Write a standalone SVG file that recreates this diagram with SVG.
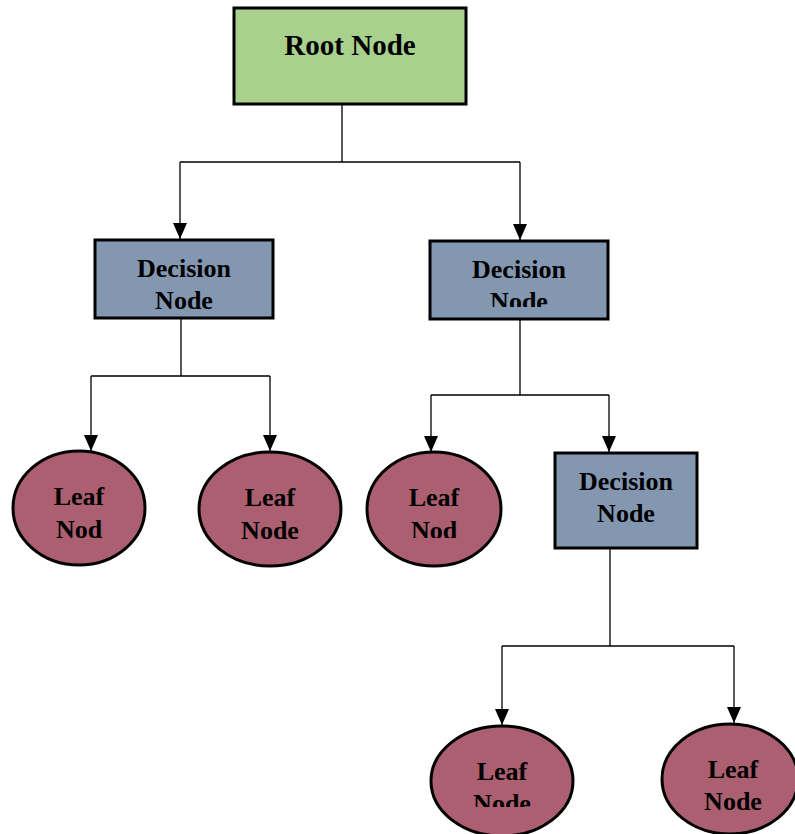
<svg xmlns="http://www.w3.org/2000/svg" width="795" height="834" viewBox="0 0 795 834">
  <style>
    .box { stroke: #000; stroke-width: 3; }
    .root { fill: #a9d18e; }
    .dec { fill: #8497b0; }
    .leaf { fill: #ad5f72; stroke: #000; stroke-width: 3; }
    .lbl { font-family: "Liberation Serif", "Times New Roman", serif; font-weight: bold; font-size: 26px; fill: #000; text-anchor: middle; }
    .big { font-size: 29px; }
    .wire { fill: none; stroke: #000; stroke-width: 1.3; }
  </style>
  <defs>
    <!-- filled triangular arrowhead, tip at the end of the line -->
    <marker id="arrow" markerUnits="userSpaceOnUse" markerWidth="16" markerHeight="14" refX="16" refY="7" orient="auto" viewBox="0 0 16 14">
      <path d="M0,0 L16,7 L0,14 Z" fill="#000"/>
    </marker>
    <clipPath id="clipD2"><rect x="430" y="241" width="180" height="66"/></clipPath>
    <clipPath id="clipL3"><rect x="360" y="440" width="150" height="98"/></clipPath>
    <clipPath id="clipL4"><rect x="420" y="720" width="160" height="87"/></clipPath>
  </defs>

  <!-- connectors -->
  <g id="connectors">
    <path class="wire" d="M342,104 V162 M180,162 H520"/>
    <path class="wire" d="M180,162 V239" marker-end="url(#arrow)"/>
    <path class="wire" d="M520,162 V240" marker-end="url(#arrow)"/>
    <path class="wire" d="M181,318 V376 M91,376 H270"/>
    <path class="wire" d="M91,376 V451" marker-end="url(#arrow)"/>
    <path class="wire" d="M270,376 V451" marker-end="url(#arrow)"/>
    <path class="wire" d="M520,319 V395 M431,395 H609"/>
    <path class="wire" d="M431,395 V452" marker-end="url(#arrow)"/>
    <path class="wire" d="M609,395 V452" marker-end="url(#arrow)"/>
    <path class="wire" d="M610,548 V646 M502,646 H734"/>
    <path class="wire" d="M502,646 V725" marker-end="url(#arrow)"/>
    <path class="wire" d="M734,646 V723" marker-end="url(#arrow)"/>
  </g>

  <g id="root">
    <rect class="box root" x="234" y="8" width="232" height="96"/>
    <text class="lbl big" x="350" y="55">Root Node</text>
  </g>

  <g id="decision1">
    <rect class="box dec" x="95" y="240" width="178" height="78"/>
    <text class="lbl" x="184" y="277">Decision</text>
    <text class="lbl" x="184" y="309">Node</text>
  </g>

  <g id="decision2">
    <rect class="box dec" x="430" y="241" width="178" height="78"/>
    <text class="lbl" x="519" y="278">Decision</text>
    <text class="lbl" x="519" y="310" clip-path="url(#clipD2)">Node</text>
  </g>

  <g id="leaf1">
    <ellipse class="leaf" cx="79" cy="508" rx="66" ry="57"/>
    <text class="lbl" x="79" y="505">Leaf</text>
    <text class="lbl" x="79" y="538">Nod</text>
  </g>

  <g id="leaf2">
    <ellipse class="leaf" cx="270" cy="509" rx="71" ry="57"/>
    <text class="lbl" x="270" y="506">Leaf</text>
    <text class="lbl" x="270" y="539">Node</text>
  </g>

  <g id="leaf3">
    <ellipse class="leaf" cx="434" cy="509" rx="67" ry="57"/>
    <text class="lbl" x="434" y="506">Leaf</text>
    <text class="lbl" x="434" y="539" clip-path="url(#clipL3)">Nod</text>
  </g>

  <g id="decision3">
    <rect class="box dec" x="555" y="453" width="142" height="95"/>
    <text class="lbl" x="626" y="490">Decision</text>
    <text class="lbl" x="626" y="522">Node</text>
  </g>

  <g id="leaf4">
    <ellipse class="leaf" cx="502" cy="781" rx="71" ry="55"/>
    <text class="lbl" x="502" y="780">Leaf</text>
    <text class="lbl" x="502" y="812" clip-path="url(#clipL4)">Node</text>
  </g>

  <g id="leaf5">
    <ellipse class="leaf" cx="730" cy="779" rx="68" ry="55"/>
    <text class="lbl" x="733" y="778">Leaf</text>
    <text class="lbl" x="733" y="810">Node</text>
  </g>
</svg>
